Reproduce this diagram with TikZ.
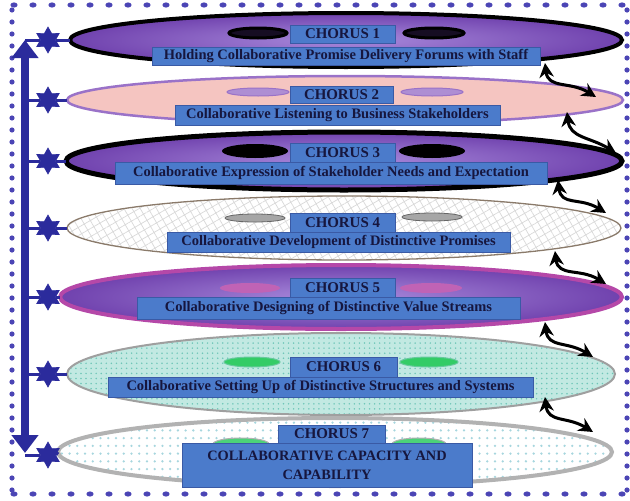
\documentclass[tikz,border=0pt]{standalone}
\usepackage{fontspec}
\setmainfont{Liberation Serif}
\usetikzlibrary{
  arrows.meta,      % Triangle、Stealth 箭头
  shapes.geometric, % 椭圆与星形节点
  patterns.meta,    % 点阵、网格填充
  calc              % 坐标计算
}
\newdimen\pxu
\pxu=0.025cm

\definecolor{dotblue}{HTML}{4B45B5}
\definecolor{axisblue}{HTML}{2B2B9C}
\definecolor{boxblue}{HTML}{4B7BCB}
\definecolor{boxedge}{HTML}{3A5AA5}
\definecolor{inktext}{HTML}{16163E}
\definecolor{purpin}{HTML}{A98BDC}
\definecolor{purpout}{HTML}{7042AE}
\definecolor{pinkfill}{HTML}{F5C5C1}
\definecolor{lilac}{HTML}{9A72C8}
\definecolor{magedge}{HTML}{B548A8}
\definecolor{tealfill}{HTML}{C2E9E2}
\definecolor{tealdot}{HTML}{6FC6B8}
\definecolor{skydot}{HTML}{A6D6DE}
\definecolor{taupe}{HTML}{8A7A6A}

\begin{document}
\begin{tikzpicture}[x=0.025cm, y=-0.025cm,
  disc/.style={ellipse, inner sep=0pt, outer sep=0pt},
  chorustitle/.style={rectangle, fill=boxblue, draw=boxedge, line width=0.6pt,
    text=inktext, inner sep=0pt, font=\bfseries\fontsize{10.6}{12}\selectfont},
  chorusline/.style={chorustitle, font=\bfseries\fontsize{10.3}{12}\selectfont},
  starnode/.style={star, star points=6, star point ratio=1.75, fill=axisblue,
    draw=axisblue, minimum size=26\pxu, inner sep=0pt},
  linkline/.style={axisblue, line width=3\pxu},
  axisarrow/.style={axisblue, line width=8\pxu,
    {Triangle[width=0.65cm,length=0.45cm]}-{Triangle[width=0.65cm,length=0.45cm]}},
  wave/.style={black, line width=3\pxu,
    {Stealth[width=0.36cm,length=0.36cm]}-{Stealth[width=0.36cm,length=0.36cm]}}
]

  \useasboundingbox (0,0) rectangle (630,500);
  \fill[white] (0,0) rectangle (630,500);

  % =========== 点状边框 ===========
  \foreach \i in {0,...,32} {
    \fill[dotblue] (14+19*\i,5) ellipse [x radius=3.6, y radius=2.6];
    \fill[dotblue] (14+19*\i,494) ellipse [x radius=3.6, y radius=2.6];
  }
  \foreach \j in {0,...,40} {
    \fill[dotblue] (12,10+12*\j) circle [radius=2.6];
    \fill[dotblue] (627,10+12*\j) circle [radius=2.6];
  }

  % =========== 七个椭圆 ===========
  \node[disc, minimum width=552\pxu, minimum height=54\pxu, inner color=purpin,
    outer color=purpout, draw=black, line width=4\pxu] (e1) at (346,40) {};
  \node[disc, minimum width=556\pxu, minimum height=48\pxu, fill=pinkfill,
    draw=lilac, line width=2.5\pxu] (e2) at (345,100) {};
  \node[disc, minimum width=556\pxu, minimum height=58\pxu, inner color=purpin,
    outer color=purpout, draw=black, line width=5\pxu] (e3) at (344,161) {};
  \node[disc, minimum width=554\pxu, minimum height=64\pxu, preaction={fill=white},
    pattern={Hatch[distance=5pt, angle=30, line width=0.5pt]}, pattern color=gray!30,
    draw=taupe, line width=1.3\pxu] (e4) at (344,228) {};
  \node[disc, minimum width=562\pxu, minimum height=64\pxu, inner color=purpin,
    outer color=purpout, draw=magedge, line width=4\pxu] (e5) at (341,297) {};
  \node[disc, minimum width=548\pxu, minimum height=82\pxu, preaction={fill=tealfill},
    pattern={Dots[distance=3.6pt, radius=0.6pt]}, pattern color=tealdot,
    draw=gray!75, line width=2\pxu] (e6) at (341,374) {};
  \node[disc, minimum width=554\pxu, minimum height=68\pxu, preaction={fill=white},
    pattern={Dots[distance=5.5pt, radius=0.9pt]}, pattern color=skydot,
    draw=gray!60, line width=4\pxu] (e7) at (335,452) {};

  % =========== 椭圆内的小椭圆 ===========
  \filldraw[fill=black!80!purpout, draw=black, line width=3\pxu]
    (258,33) ellipse [x radius=29, y radius=5] (434,33) ellipse [x radius=30, y radius=5];
  \filldraw[fill=lilac!80, draw=lilac, line width=1\pxu]
    (258,92) ellipse [x radius=31, y radius=4] (432,92) ellipse [x radius=31, y radius=4];
  \fill[black]
    (255,151) ellipse [x radius=33, y radius=7] (432,151) ellipse [x radius=33, y radius=7];
  \filldraw[fill=gray!70, draw=black!60, line width=0.8\pxu]
    (255,218) ellipse [x radius=30, y radius=4] (432,217) ellipse [x radius=30, y radius=4];
  \fill[magedge!85]
    (250,288) ellipse [x radius=30, y radius=5] (431,288) ellipse [x radius=31, y radius=5];
  \filldraw[fill=green!50!teal!80, draw=green!30!teal!60, line width=1\pxu]
    (252,362) ellipse [x radius=28, y radius=5] (429,362) ellipse [x radius=29, y radius=5];
  \filldraw[fill=green!50!teal!70, draw=gray!60, line width=1\pxu]
    (241,444) ellipse [x radius=28, y radius=6] (419,444) ellipse [x radius=27, y radius=6];

  % =========== 文字框 ===========
  \node[chorustitle, minimum width=105\pxu, minimum height=18\pxu] (t1) at (342.5,34) {CHORUS 1};
  \node[chorusline, minimum width=388\pxu, minimum height=18\pxu] (s1) at (346,56)
    {Holding Collaborative Promise Delivery Forums with Staff};
  \node[chorustitle, minimum width=103\pxu, minimum height=17\pxu] (t2) at (341.5,94.5) {CHORUS 2};
  \node[chorusline, minimum width=325\pxu, minimum height=20\pxu] (s2) at (337.5,115)
    {Collaborative Listening to Business Stakeholders};
  \node[chorustitle, minimum width=105\pxu, minimum height=19\pxu] (t3) at (342.5,152.5) {CHORUS 3};
  \node[chorusline, minimum width=432\pxu, minimum height=22\pxu] (s3) at (331,173)
    {Collaborative Expression of Stakeholder Needs and Expectation};
  \node[chorustitle, minimum width=105\pxu, minimum height=19\pxu] (t4) at (342.5,222.5) {CHORUS 4};
  \node[chorusline, minimum width=343\pxu, minimum height=20\pxu] (s4) at (338.5,242)
    {Collaborative Development of Distinctive Promises};
  \node[chorustitle, minimum width=105\pxu, minimum height=19\pxu] (t5) at (342.5,287.5) {CHORUS 5};
  \node[chorusline, minimum width=383\pxu, minimum height=22\pxu] (s5) at (328.5,308)
    {Collaborative Designing of Distinctive Value Streams};
  \node[chorustitle, minimum width=107\pxu, minimum height=20\pxu] (t6) at (343.5,367) {CHORUS 6};
  \node[chorusline, minimum width=425\pxu, minimum height=20\pxu] (s6) at (320.5,387)
    {Collaborative Setting Up of Distinctive Structures and Systems};
  \node[chorustitle, minimum width=107\pxu, minimum height=18\pxu] (t7) at (331.5,434) {CHORUS 7};
  \node[chorusline, minimum width=290\pxu, minimum height=44\pxu, align=center,
    font=\bfseries\fontsize{10.2}{13.5}\selectfont] (s7) at (327,465)
    {COLLABORATIVE CAPACITY AND\\CAPABILITY};

  % =========== 左侧双向箭头与星形 ===========
  \coordinate (axt) at (25,40);
  \coordinate (axb) at (25,453);
  \draw[axisarrow] (axb) -- (axt);

  \node[starnode] (st1) at (48,40) {};
  \node[starnode] (st2) at (48,100) {};
  \node[starnode] (st3) at (48,161) {};
  \node[starnode] (st4) at (48,228) {};
  \node[starnode] (st5) at (48,297) {};
  \node[starnode] (st6) at (48,374) {};
  \node[starnode] (st7) at (48,455) {};
  \foreach \k in {1,...,7} {
    \draw[linkline] (st\k -| axt) -- (st\k.west);
    \draw[linkline] (st\k.east) -- (e\k.west);
  }

  % =========== 右侧波浪箭头 ===========
  \coordinate (w1a) at (545,63);  \coordinate (w1b) at (596,97);
  \coordinate (w2a) at (567,112); \coordinate (w2b) at (616,153);
  \coordinate (w3a) at (558,180); \coordinate (w3b) at (606,213);
  \coordinate (w4a) at (555,251); \coordinate (w4b) at (606,284);
  \coordinate (w5a) at (545,322); \coordinate (w5b) at (593,357);
  \coordinate (w6a) at (545,397); \coordinate (w6b) at (593,432);
  \foreach \k in {1,...,6} {
    \draw[wave] (w\k a) .. controls +(3,26) and +(-26,-16) .. (w\k b);
  }

\end{tikzpicture}
\end{document}
